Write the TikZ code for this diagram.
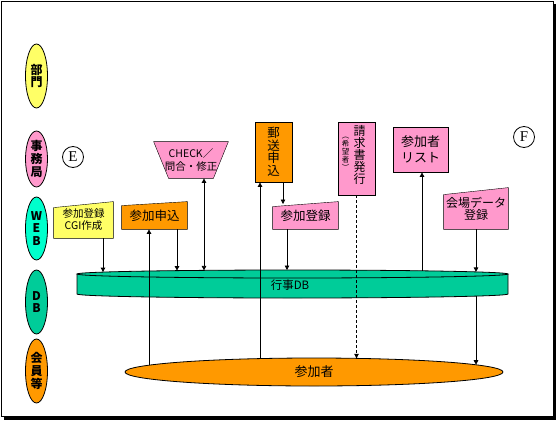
\documentclass[tikz,border=0pt]{standalone}
\usepackage{fontspec}
\setmainfont{Noto Sans CJK JP}
\newfontfamily\serifE{Liberation Serif}
\usetikzlibrary{shapes.geometric,arrows.meta,backgrounds}
\definecolor{cyel}{HTML}{FFFF66}
\definecolor{cpink}{HTML}{FF99CC}
\definecolor{corange}{HTML}{FF9900}
\definecolor{cweb}{HTML}{00FFCC}
\definecolor{cdb}{HTML}{00CC99}
\begin{document}
\begin{tikzpicture}[x=1pt,y=-1pt,line width=0.8pt,
  lane/.style={ellipse,draw,minimum width=22pt,minimum height=64pt,inner sep=0pt,align=center,font=\fontsize{12}{12.8}\selectfont\bfseries},
  box/.style={draw,inner sep=0pt,align=center,font=\fontsize{12.5}{12.5}\selectfont},
  plain/.style={inner sep=0pt,align=center,font=\fontsize{12.5}{13}\selectfont},
  arr/.style={-{Triangle[width=4.5pt,length=4.5pt]}},
  arrb/.style={{Triangle[width=4.5pt,length=4.5pt]}-{Triangle[width=4.5pt,length=4.5pt]}},
  dsh/.style={dash pattern=on 3pt off 2pt},
  circ/.style={circle,draw,minimum size=21pt,inner sep=0pt,font=\serifE\fontsize{15}{15}\selectfont}]
\useasboundingbox (0,0) rectangle (556,420);
% frame with shadow
\fill (553,4) rectangle (556,420);
\fill (4,416) rectangle (556,420);
\draw (1.5,1.5) rectangle (553,416);

% lanes
\node[lane,fill=cyel] (lbumon) at (36.5,76) {部\\門};
\node[lane,fill=cpink,minimum height=56pt] (ljimu) at (36.5,159) {事\\務\\局};
\node[lane,fill=cweb,minimum height=63pt] (lweb) at (36.5,228.5) {W\\E\\B};
\node[lane,fill=cdb] (ldb) at (36.5,302) {D\\B};
\node[lane,fill=corange] (lkai) at (36.5,371) {会\\員\\等};

\node[circ] (ce) at (73,157) {E};
\node[circ] (cf) at (524,137) {F};

% top boxes
\node[plain,minimum width=74pt,minimum height=36pt,font=\fontsize{10.5}{13}\selectfont] (chk) at (191,160) {CHECK／\\問合・修正};
\begin{scope}[on background layer]
\draw[fill=cpink] (chk.north west) -- (chk.north east) -- ([xshift=-15pt]chk.south east) -- ([xshift=15pt]chk.south west) -- cycle;
\end{scope}
\node[box,fill=corange,minimum width=37pt,minimum height=60pt] (mail) at (273.5,152) {郵\\送\\申\\込};
\node[draw,fill=cpink,minimum width=37pt,minimum height=73pt,inner sep=0pt] (bill) at (356.5,158.5) {};
\node[plain,font=\fontsize{12}{11.8}\selectfont] (billt) at (359.5,155) {請\\求\\書\\発\\行};
\node[plain,font=\fontsize{7.5}{8}\selectfont] (billk) at (345.5,153.5) {︵\\希\\望\\者\\︶};
\node[box,fill=cpink,minimum width=55pt,minimum height=45pt,font=\fontsize{13}{16}\selectfont] (list) at (420.5,149.5) {参加者\\リスト};

% WEB boxes (slanted top)
\node[plain,minimum width=59pt,minimum height=36pt,font=\fontsize{10.5}{14}\selectfont] (cgi) at (83.5,220) {\raisebox{-2pt}{参加登録}\\CGI作成};
\node[plain,minimum width=65pt,minimum height=27pt] (apply) at (154.5,215.5) {\raisebox{-2pt}{参加申込}};
\node[plain,minimum width=65pt,minimum height=27pt] (reg) at (305.5,215.5) {\raisebox{-2pt}{参加登録}};
\node[plain,minimum width=64pt,minimum height=41pt,font=\fontsize{12}{14}\selectfont] (venue) at (476,208.5) {\raisebox{-2pt}{会場データ}\\登録};
\begin{scope}[on background layer]
\draw[fill=cyel] (cgi.south west) -- ([yshift=-6pt]cgi.north west) -- (cgi.north east) -- (cgi.south east) -- cycle;
\draw[fill=corange] (apply.south west) -- ([yshift=-4pt]apply.north west) -- (apply.north east) -- (apply.south east) -- cycle;
\draw[fill=cpink] (reg.south west) -- ([yshift=-5pt]reg.north west) -- (reg.north east) -- (reg.south east) -- cycle;
\draw[fill=cpink] (venue.south west) -- ([yshift=-7pt]venue.north west) -- (venue.north east) -- (venue.south east) -- cycle;
\end{scope}

% DB cylinder
\fill[cdb] (77,274) -- (77,294) arc[start angle=180,end angle=360,x radius=215.5pt,y radius=4pt] -- (508,274) -- cycle;
\draw (77,274) -- (77,294) arc[start angle=180,end angle=360,x radius=215.5pt,y radius=4pt] -- (508,274);
\draw[fill=cdb] (292.5,274) ellipse[x radius=215.5pt,y radius=4pt];
\node[plain,font=\fontsize{11.5}{12}\selectfont] (db) at (290,285.5) {行事DB};

% participant ellipse
\node[ellipse,draw,fill=corange,minimum width=378pt,minimum height=28pt,inner sep=0pt,font=\fontsize{13}{13}\selectfont] (sanka) at (314,372) {参加者};

% connector end points on DB and ellipse
\coordinate (d1) at (103,272.1);
\coordinate (d2) at (177,270.6);
\coordinate (d3) at (204,270.4);
\coordinate (d5) at (287,270);
\coordinate (d6) at (422,270.8);
\coordinate (d7) at (476,271.9);
\coordinate (d8) at (476,296.1);
\coordinate (p1) at (149,365.3);
\coordinate (p2) at (260,358.6);
\coordinate (p3) at (356.5,358.3);
\coordinate (p4) at (476,364.7);
\coordinate (r1) at (283,204);

% connectors
\draw[arr] (cgi.south -| d1) -- (d1);
\draw[arr] (p1) -- (p1 |- apply.south);
\draw[arr] (apply.south -| d2) -- (d2);
\draw[arrb] (d3) -- (d3 |- chk.south);
\draw[arr] (p2) -- (p2 |- mail.south);
\draw[arr] (mail.south -| r1) -- (r1);
\draw[arr] (reg.south -| d5) -- (d5);
\draw[arr,dsh] (bill.south) -- (p3);
\draw[arr] (d6) -- (d6 |- list.south);
\draw[arr] (venue.south) -- (d7);
\draw[arr] (d8) -- (p4);
\end{tikzpicture}
\end{document}
